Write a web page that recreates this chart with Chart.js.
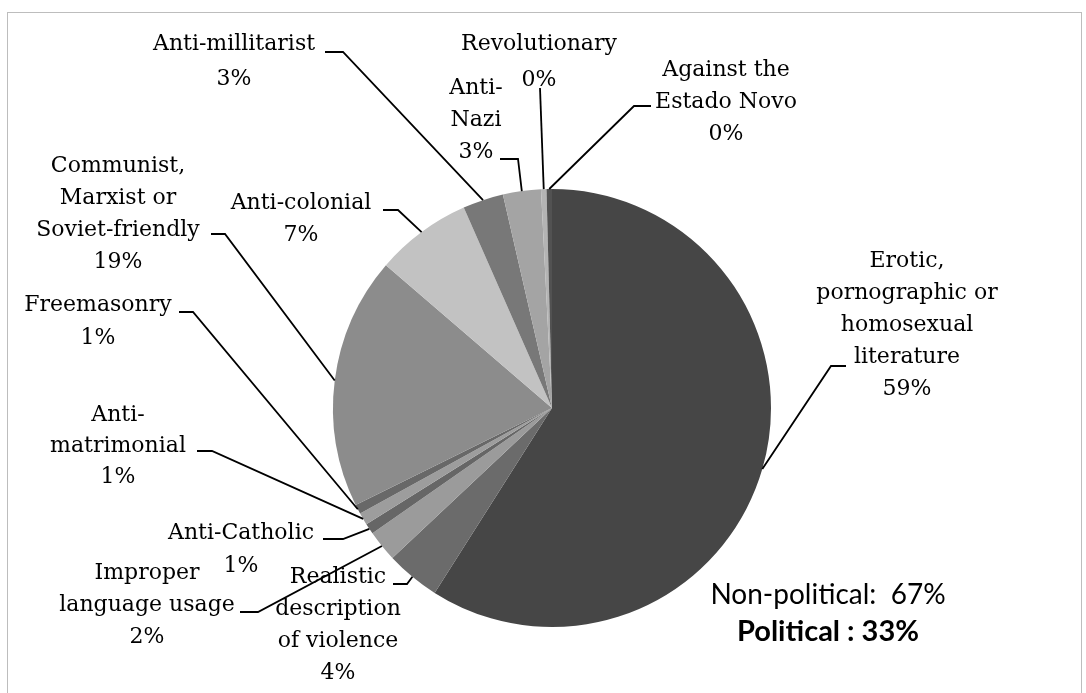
<!DOCTYPE html>
<html>
<head>
<meta charset="utf-8">
<script src="https://cdn.jsdelivr.net/npm/chart.js@4"></script>
<style>
  html, body { margin: 0; padding: 0; background: #fff; }
  #frame { position: absolute; left: 7px; top: 12px; width: 1073px; height: 700px; border: 1px solid #bdbdbd; }
  #wrap { position: absolute; left: 0; top: 0; width: 1086px; height: 693px; }
</style>
</head>
<body>
<div id="frame"></div>
<div id="wrap"><canvas id="censorChart" width="1086" height="693"></canvas></div>
<script>
// Reasons for banning books (share of all banned titles, %)
const categories = [
  ['Erotic,', 'pornographic or', 'homosexual', 'literature'],
  ['Realistic', 'description', 'of violence'],
  ['Improper', 'language usage'],
  ['Anti-Catholic'],
  ['Anti-', 'matrimonial'],
  ['Freemasonry'],
  ['Communist,', 'Marxist or', 'Soviet-friendly'],
  ['Anti-colonial'],
  ['Anti-millitarist'],
  ['Anti-', 'Nazi'],
  ['Revolutionary'],
  ['Against the', 'Estado Novo']
];
const shares = [59.0, 4.0, 2.3, 0.8, 0.9, 0.7, 18.6, 7.1, 3.0, 2.8, 0.4, 0.4];
const political = [false, false, false, false, false, true, true, true, true, true, true, true];
const sliceColors = ['#464646', '#6b6b6b', '#9b9b9b', '#666666', '#9d9d9d', '#686868',
  '#8c8c8c', '#c2c2c2', '#787878', '#a4a4a4', '#b4b4b4', '#525252'];

// where each label sits and the elbow of its leader line
const labelLayout = [
  { x: 907, y: 261, lh: 32, leader: [[846, 366], [831, 366]] },
  { x: 338, y: 577, lh: 32, leader: [[393, 584], [407, 584]] },
  { x: 147, y: 573, lh: 32, leader: [[240, 612], [258, 612]] },
  { x: 241, y: 533, lh: 33, leader: [[323, 539], [343, 539]] },
  { x: 118, y: 415, lh: 31, leader: [[197, 451], [212, 451]] },
  { x: 98, y: 305, lh: 33, leader: [[179, 312], [193, 312]] },
  { x: 118, y: 166, lh: 32, leader: [[211, 234], [225, 234]] },
  { x: 301, y: 203, lh: 32, leader: [[383, 210], [398, 210]] },
  { x: 234, y: 44, lh: 35, leader: [[325, 52], [343, 52]] },
  { x: 476, y: 88, lh: 32, leader: [[500, 159], [518, 159]] },
  { x: 539, y: 44, lh: 36, leader: [[540, 88]] },
  { x: 726, y: 70, lh: 32, leader: [[651, 106], [634, 106]] }
];

const total = shares.reduce((a, b) => a + b, 0);
const pct = v => Math.round(v / total * 100) + '%';

const sliceLabels = {
  id: 'sliceLabels',
  afterDraw(chart) {
    const ctx = chart.ctx;
    const arcs = chart.getDatasetMeta(0).data;
    ctx.save();
    ctx.strokeStyle = '#000';
    ctx.lineWidth = 1.8;
    ctx.fillStyle = '#000';
    ctx.font = '22px "DejaVu Serif"';
    ctx.textAlign = 'center';
    ctx.textBaseline = 'middle';
    arcs.forEach((arc, i) => {
      const L = labelLayout[i];
      // leader line: elbow, then to the middle of the slice's rim
      const mid = (arc.startAngle + arc.endAngle) / 2;
      const ex = arc.x + Math.cos(mid) * arc.outerRadius;
      const ey = arc.y + Math.sin(mid) * arc.outerRadius;
      ctx.beginPath();
      ctx.moveTo(L.leader[0][0], L.leader[0][1]);
      for (let k = 1; k < L.leader.length; k++) ctx.lineTo(L.leader[k][0], L.leader[k][1]);
      ctx.lineTo(ex, ey);
      ctx.stroke();

      const lines = categories[i].concat([pct(shares[i])]);
      lines.forEach((t, k) => ctx.fillText(t, L.x, L.y + k * L.lh));
    });

    // political / non-political totals
    let pol = 0, nonPol = 0;
    shares.forEach((v, i) => { if (political[i]) pol += v; else nonPol += v; });
    ctx.font = '28px Lato';
    ctx.fillText('Non-political:  ' + pct(nonPol), 828, 595);
    ctx.font = 'bold 29px Lato';
    ctx.fillText('Political : ' + pct(pol), 828, 632);
    ctx.restore();
  }
};

const ctx = document.getElementById('censorChart').getContext('2d');
const censorChart = new Chart(ctx, {
  type: 'pie',
  data: {
    labels: categories,
    datasets: [{
      data: shares,
      backgroundColor: sliceColors,
      borderWidth: 0
    }]
  },
  options: {
    responsive: false,
    animation: false,
    layout: { padding: { left: 333, right: 315, top: 189, bottom: 66 } },
    plugins: {
      legend: { display: false },
      tooltip: { enabled: false }
    }
  },
  plugins: [sliceLabels]
});
</script>
</body>
</html>
